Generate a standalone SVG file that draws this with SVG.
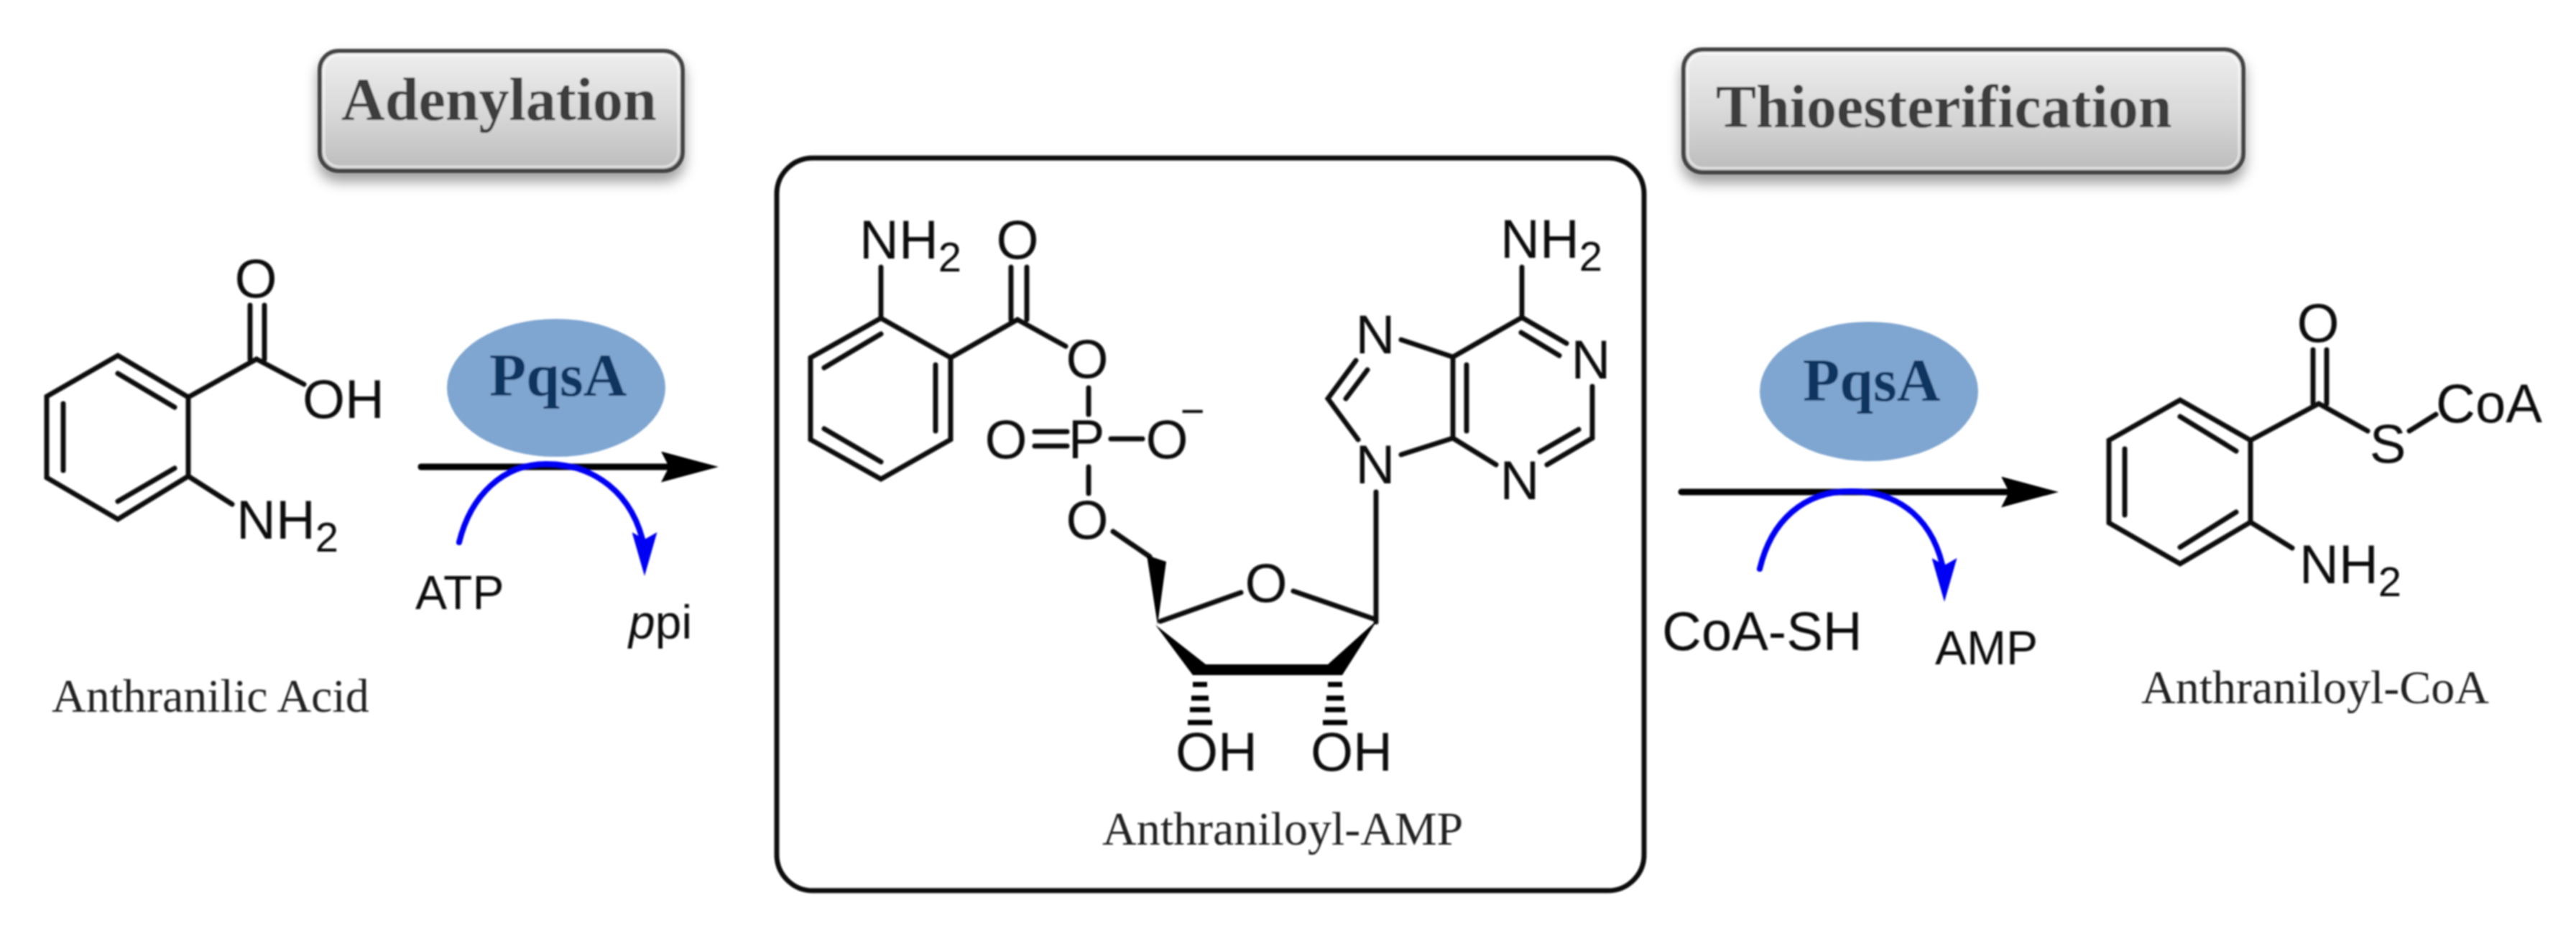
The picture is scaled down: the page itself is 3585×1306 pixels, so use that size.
<svg xmlns="http://www.w3.org/2000/svg" width="3585" height="1306" viewBox="0 0 3585 1306">
<style>
.b{stroke:#111;stroke-width:7;fill:none;stroke-linecap:round}
.a{font:76px "Liberation Sans",Arial,sans-serif;fill:#111}
.am{text-anchor:middle}
.s{font-size:58px}
.sm{font:66px "Liberation Sans",Arial,sans-serif;fill:#111}
.r{font:66px "Liberation Serif","Times New Roman",serif;fill:#222}
.h{font:bold 84px "Liberation Serif","Times New Roman",serif;fill:#3c3c3c}
.e{font:bold 84px "Liberation Serif","Times New Roman",serif;fill:#0f3560}
.box{fill:url(#g);stroke:#454545;stroke-width:6;filter:url(#sh)}
.hl{fill:none;stroke:#fff;stroke-opacity:.55;stroke-width:3}
.en{fill:#7fa6d0}
.k{stroke:#000;stroke-width:9;fill:none;stroke-linecap:round;marker-end:url(#ah)}
.bl{stroke:#0000f5;stroke-width:8;fill:none;stroke-linecap:round;marker-end:url(#bh)}
.w{fill:#000}
</style>
<defs>
<linearGradient id="g" x1="0" y1="0" x2="0" y2="1"><stop offset="0" stop-color="#eeeeee"/><stop offset=".5" stop-color="#d9d9d9"/><stop offset="1" stop-color="#bcbcbc"/></linearGradient>
<filter id="sh" x="-8%" y="-15%" width="116%" height="150%"><feDropShadow dx="0" dy="12" stdDeviation="9" flood-color="#000" flood-opacity=".38"/></filter>
<filter id="soft" filterUnits="userSpaceOnUse" x="0" y="0" width="3585" height="1306"><feGaussianBlur stdDeviation="1"/></filter>
<marker id="ah" markerUnits="userSpaceOnUse" viewBox="0 0 80 43" refX="40" refY="21.5" markerWidth="80" markerHeight="43" orient="auto"><path d="M0,0L80,21.5L0,43L11,21.5Z" fill="#000"/></marker>
<marker id="bh" markerUnits="userSpaceOnUse" viewBox="0 0 61 35" refX="23" refY="17.5" markerWidth="61" markerHeight="35" orient="90"><path d="M0,0L61,17.5L0,35L10,17.5Z" fill="#0000f5"/></marker>
</defs>
<rect width="3585" height="1306" fill="#fff"/>
<g filter="url(#soft)">

<g id="step-adenylation"><rect class="box" x="445" y="71" width="505" height="167" rx="26"/><rect class="hl" x="451" y="77" width="493" height="155" rx="21"/><text class="h" x="475" y="167">Adenylation</text></g>
<g id="step-thioesterification"><rect class="box" x="2343" y="69" width="779" height="171" rx="26"/><rect class="hl" x="2349" y="75" width="767" height="159" rx="21"/><text class="h" x="2388" y="177">Thioesterification</text></g>

<g id="enzyme-1"><ellipse class="en" cx="774" cy="540" rx="152" ry="96"/><text class="e" x="681" y="551">PqsA</text></g>
<g id="enzyme-2"><ellipse class="en" cx="2601" cy="545" rx="152" ry="97"/><text class="e" x="2509" y="558">PqsA</text></g>

<g id="connectors">
<path class="k" d="M586,650H960"/>
<path class="k" d="M2340,685H2825"/>
<path class="bl" d="M639,755C655,690 700,646 760,646C825,646 882,685 897,764"/>
<path class="bl" d="M2449,792C2465,725 2510,684 2576,684C2645,684 2693,725 2706,800"/>
</g>

<g id="anthranilic-acid">
<path class="b" d="M164,495L262,553L262,663L164,723L65,665L65,552Z M164,520L243,567 M243,652L164,698 M88,562V655 M262,553L357,500L423,535 M348,425V500 M368,425V500 M262,663L323,702"/>
<text class="a am" x="356" y="414">O</text>
<text class="a" x="421" y="582">OH</text>
<text class="a" x="329" y="750">NH<tspan class="s" dy="18">2</tspan></text>
<text class="r" x="72" y="991">Anthranilic Acid</text>
</g>
<text id="atp" class="sm" x="578" y="848">ATP</text>
<text id="ppi" class="sm" x="875" y="889"><tspan font-style="italic">p</tspan>pi</text>

<g id="anthraniloyl-amp">
<rect x="1081" y="220" width="1207" height="1020" rx="50" fill="none" stroke="#111" stroke-width="7"/>
<path class="b" d="M1226,443L1323,498L1323,612L1226,667L1128,612L1128,498Z M1226,465L1147,512 M1302,508V600 M1147,597L1226,643 M1226,443V372 M1323,498L1416,445L1483,482 M1407,372V445 M1429,372V445 M1515,540V577 M1440,601H1485 M1440,621H1485 M1546,611H1590 M1515,650V687 M1549,740L1600,775 M1615,865L1727,825 M1800,823L1913,862 M1915,685V866 M2118,442V372 M2118,442L2180,478 M2117,463L2170,495 M2216,538V610L2153,647 M2197,598L2143,629 M2082,647L2022,610V497L2118,442 M2041,508V600 M1950,473L2022,497 M1887,502L1848,555L1890,612 M1903,515L1873,555 M1950,633L2022,610"/>
<path class="w" d="M1596,773L1623,782L1611,870Z M1608,870L1660,940L1868,940L1917,863L1848,925L1678,925Z"/>
<path d="M1660,953H1680M1658,972H1682M1656,988H1684M1653,1006H1687 M1848,953H1868M1846,972H1870M1844,988H1872M1841,1006H1875" stroke="#000" stroke-width="7" fill="none"/>
<text class="a" x="1196" y="360">NH<tspan class="s" dy="18">2</tspan></text>
<text class="a am" x="1416" y="360">O</text>
<text class="a am" x="1513" y="526">O</text>
<text class="a am" x="1400" y="638">O</text>
<text class="a am" x="1512" y="638">P</text>
<text class="a" x="1594.5" y="638">O<tspan class="s" dx="-11" dy="-46">−</tspan></text>
<text class="a am" x="1513" y="750">O</text>
<text class="a am" x="1762" y="838">O</text>
<text class="a" x="1636" y="1073">OH</text>
<text class="a" x="1824" y="1073">OH</text>
<text class="a" x="2088" y="359">NH<tspan class="s" dy="18">2</tspan></text>
<text class="a am" x="2214" y="527">N</text>
<text class="a am" x="2115" y="695">N</text>
<text class="a am" x="1914" y="492">N</text>
<text class="a am" x="1914" y="673">N</text>
<text class="r" x="1534" y="1176">Anthraniloyl-AMP</text>
</g>

<text id="coa-sh" class="a" x="2313" y="905">CoA-SH</text>
<text id="amp" class="sm" x="2693" y="925">AMP</text>

<g id="anthraniloyl-coa">
<path class="b" d="M3034,557L3132,613L3132,727L3034,785L2935,728L2935,613Z M3034,580L3112,628 M3112,713L3034,762 M2957,625V717 M3132,613L3227,562L3295,600 M3219,487V562 M3238,487V562 M3353,600L3390,577 M3132,727L3190,763"/>
<text class="a am" x="3226" y="476">O</text>
<text class="a am" x="3323" y="644">S</text>
<text class="a" x="3390" y="588">CoA</text>
<text class="a" x="3200" y="812">NH<tspan class="s" dy="18">2</tspan></text>
<text class="r" x="2980" y="979">Anthraniloyl-CoA</text>
</g>
</g>
</svg>
